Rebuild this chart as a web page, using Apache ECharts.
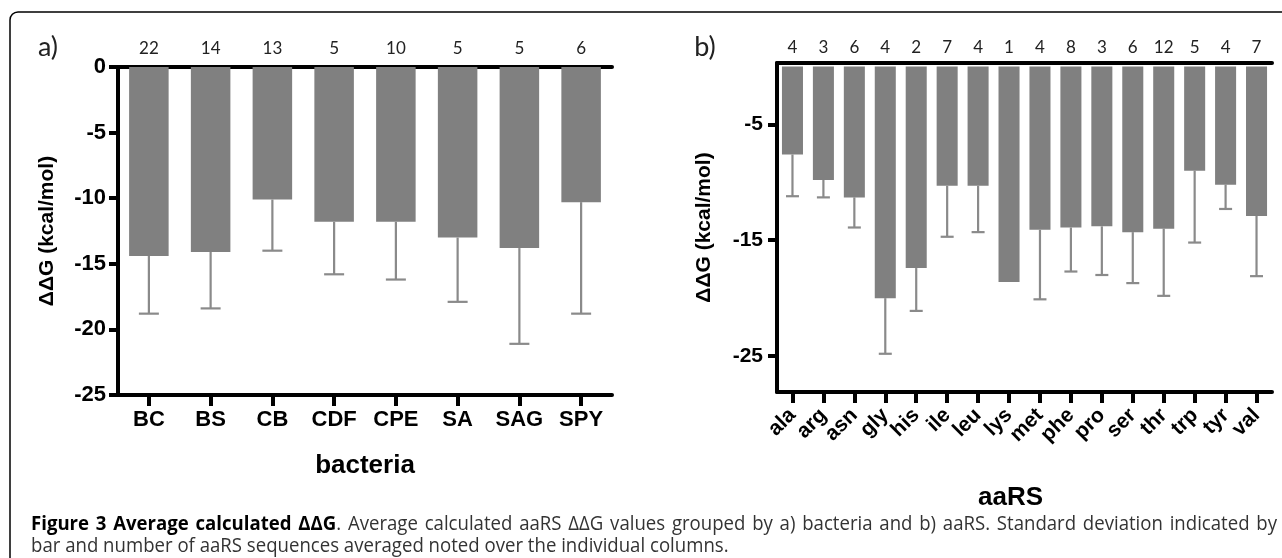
<!DOCTYPE html>
<html>
<head>
<meta charset="utf-8">
<script src="https://cdn.jsdelivr.net/npm/echarts@6/dist/echarts.min.js"></script>
<style>
html,body{margin:0;padding:0;background:#fff;}
#chart{width:1282px;height:558px;}
</style>
</head>
<body>
<div id="chart"></div>
<script>
// ---- data ----
const catA = ['BC','BS','CB','CDF','CPE','SA','SAG','SPY'];
const nA = [22,14,13,5,10,5,5,6];
const meanA = [-14.4,-14.1,-10.1,-11.8,-11.8,-13.0,-13.8,-10.3];
const sdA = [4.4,4.3,3.9,4.0,4.4,4.9,7.3,8.5];

const catB = ['ala','arg','asn','gly','his','ile','leu','lys','met','phe','pro','ser','thr','trp','tyr','val'];
const nB = [4,3,6,4,2,7,4,1,4,8,3,6,12,5,4,7];
const meanB = [-7.6,-9.8,-11.3,-20.0,-17.4,-10.3,-10.3,-18.6,-14.1,-13.9,-13.8,-14.3,-14.0,-9.0,-10.2,-12.9];
const sdB = [3.6,1.5,2.6,4.8,3.7,4.4,4.0,0,6.0,3.8,4.2,4.4,5.8,6.2,2.1,5.2];

const ticksB = [-5,-15,-25];

const yTitle = 'ΔΔG (kcal/mol)';
const xTitleA = 'bacteria';
const xTitleB = 'aaRS';
const captionBold = 'Figure 3 Average calculated ΔΔG';
const captionRest1 = '. Average calculated aaRS ΔΔG values grouped by a) bacteria and b) aaRS. Standard deviation indicated by';
const caption2 = 'bar and number of aaRS sequences averaged noted over the individual columns.';

// ---- styles ----
const BAR = '#808080';
const ERR = '#8a8a8a';
const AX = '#000';
const boldFont = 'Liberation Sans, Arial, sans-serif';
const lightFont = 'Lato, DejaVu Sans, sans-serif';
const capSize = 20;
const capScale = 0.93;
const capBoldFont = 'bold ' + capSize + 'px "Open Sans", sans-serif';
const capRegFont = capSize + 'px "Open Sans", sans-serif';

function errSeries(cat, mean, sd, xi, yi, capW) {
  return {
    type: 'custom',
    xAxisIndex: xi, yAxisIndex: yi,
    z: 1,
    data: cat.map((c, i) => [i, mean[i], mean[i] - sd[i]]),
    renderItem: function (params, api) {
      const i = api.value(0), m = api.value(1), e = api.value(2);
      if (m === e) return null;
      const p0 = api.coord([i, m]);
      const p1 = api.coord([i, e]);
      const st = { stroke: ERR, lineWidth: 2.2 };
      return {
        type: 'group',
        children: [
          { type: 'line', shape: { x1: p0[0], y1: p0[1], x2: p1[0], y2: p1[1] }, style: st },
          { type: 'line', shape: { x1: p1[0] - capW / 2, y1: p1[1], x2: p1[0] + capW / 2, y2: p1[1] }, style: st }
        ]
      };
    }
  };
}

// ---- justified caption line 1 ----
const mctx = document.createElement('canvas').getContext('2d');
function measure(t, f) { mctx.font = f; return mctx.measureText(t).width; }
const bWords = captionBold.split(' ');
const rWords = captionRest1.split(' ');
const tokens = bWords.map(w => ({ b: w, r: '' }));
tokens[tokens.length - 1].r = rWords[0];
rWords.slice(1).forEach(w => tokens.push({ b: '', r: w }));
const capLeft = 31, capRight = 1277;
const widths = tokens.map(t => (measure(t.b, capBoldFont) + measure(t.r, capRegFont)) * capScale);
const totalW = widths.reduce((a, b) => a + b, 0);
const gap = (capRight - capLeft - totalW) / (tokens.length - 1);
const captionGraphics = [];
let cx = capLeft;
tokens.forEach((t, i) => {
  let txt = '';
  if (t.b) txt += '{b|' + t.b + '}';
  if (t.r) txt += '{r|' + t.r + '}';
  captionGraphics.push({
    type: 'text', x: cx, y: 524, scaleX: capScale,
    style: {
      text: txt, textVerticalAlign: 'middle',
      rich: {
        b: { font: capBoldFont, fill: '#000' },
        r: { font: capRegFont, fill: '#333' }
      }
    }
  });
  cx += widths[i] + gap;
});
captionGraphics.push({
  type: 'text', x: capLeft, y: 546, scaleX: capScale,
  style: { text: caption2, font: capRegFont, fill: '#333', textVerticalAlign: 'middle' }
});

const axisLine = { show: true, onZero: false, lineStyle: { color: AX, width: 4 } };

const option = {
  animation: false,
  backgroundColor: '#fff',
  grid: [
    { left: 118, width: 494, top: 67, height: 328 },
    { left: 777, width: 495, top: 63, height: 329 }
  ],
  xAxis: [
    {
      gridIndex: 0, type: 'category', position: 'bottom', data: catA,
      axisLine: axisLine,
      axisTick: { show: true, alignWithLabel: true, length: 11, lineStyle: { color: AX, width: 4 } },
      axisLabel: { color: '#000', fontFamily: boldFont, fontWeight: 'bold', fontSize: 22, margin: 14, interval: 0 },
      name: xTitleA, nameLocation: 'middle', nameGap: 58,
      nameTextStyle: { color: '#000', fontFamily: boldFont, fontWeight: 'bold', fontSize: 26 }
    },
    {
      gridIndex: 0, type: 'category', position: 'top', data: nA,
      axisLine: axisLine,
      axisTick: { show: false },
      axisLabel: { color: '#222', fontFamily: lightFont, fontSize: 17, margin: 10, interval: 0 }
    },
    {
      gridIndex: 1, type: 'category', position: 'bottom', data: catB,
      axisLine: axisLine,
      axisTick: { show: true, alignWithLabel: true, length: 11, lineStyle: { color: AX, width: 4 } },
      axisLabel: { color: '#000', fontFamily: boldFont, fontWeight: 'bold', fontSize: 21, margin: 20, rotate: 45, interval: 0 },
      name: xTitleB, nameLocation: 'middle', nameGap: 93,
      nameTextStyle: { color: '#000', fontFamily: boldFont, fontWeight: 'bold', fontSize: 26, padding: [0, 28, 0, 0] }
    },
    {
      gridIndex: 1, type: 'category', position: 'top', data: nB,
      axisLine: axisLine,
      axisTick: { show: false },
      axisLabel: { color: '#222', fontFamily: lightFont, fontSize: 17, margin: 7, interval: 0 }
    }
  ],
  yAxis: [
    {
      gridIndex: 0, type: 'value', min: -25, max: 0, interval: 5,
      axisLine: axisLine,
      axisTick: { show: true, length: 9, lineStyle: { color: AX, width: 4 } },
      axisLabel: { color: '#000', fontFamily: boldFont, fontWeight: 'bold', fontSize: 22, margin: 12 },
      splitLine: { show: false },
      name: yTitle, nameLocation: 'middle', nameRotate: 90, nameGap: 60,
      nameTextStyle: { color: '#000', fontFamily: boldFont, fontWeight: 'bold', fontSize: 21 }
    },
    {
      gridIndex: 1, type: 'value', min: -28.1, max: 0.3,
      axisLine: axisLine,
      axisTick: { show: true, length: 9, customValues: ticksB, lineStyle: { color: AX, width: 4 } },
      axisLabel: { color: '#000', fontFamily: boldFont, fontWeight: 'bold', fontSize: 21, margin: 14, customValues: ticksB },
      splitLine: { show: false },
      name: yTitle, nameLocation: 'middle', nameRotate: 90, nameGap: 62,
      nameTextStyle: { color: '#000', fontFamily: boldFont, fontWeight: 'bold', fontSize: 21 }
    }
  ],
  series: [
    { type: 'bar', xAxisIndex: 0, yAxisIndex: 0, data: meanA, barCategoryGap: '36%', itemStyle: { color: BAR }, z: 2 },
    errSeries(catA, meanA, sdA, 0, 0, 20),
    { type: 'bar', xAxisIndex: 2, yAxisIndex: 1, data: meanB, barCategoryGap: '32%', itemStyle: { color: BAR }, z: 2 },
    errSeries(catB, meanB, sdB, 2, 1, 13)
  ],
  graphic: [
    { type: 'rect', shape: { x: 10, y: 12, width: 1400, height: 800, r: 8 }, style: { fill: 'none', stroke: '#000', lineWidth: 1.5 }, z: 100 },
    { type: 'text', x: 48, y: 47, style: { text: 'a)', font: '27px ' + lightFont, fill: '#222', textAlign: 'center', textVerticalAlign: 'middle' } },
    { type: 'text', x: 705, y: 47, style: { text: 'b)', font: '27px ' + lightFont, fill: '#222', textAlign: 'center', textVerticalAlign: 'middle' } }
  ].concat(captionGraphics)
};

const chart = echarts.init(document.getElementById('chart'), null, { renderer: 'canvas' });
chart.setOption(option);
</script>
</body>
</html>
